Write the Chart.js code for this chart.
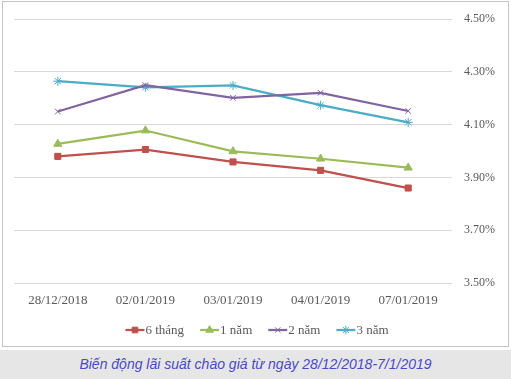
<!DOCTYPE html>
<html>
<head>
<meta charset="utf-8">
<script src="https://cdn.jsdelivr.net/npm/chart.js@4/dist/chart.umd.min.js"></script>
<style>
  html, body { margin: 0; padding: 0; background: #ffffff; }
  body { width: 511px; height: 379px; position: relative; overflow: hidden; }
  #frame { position: absolute; left: 2px; top: 1px; width: 505px; height: 344px; border: 1px solid #c4c4c4; box-sizing: content-box; }
  #caption { position: absolute; left: 0; top: 350px; width: 511px; height: 29px; background: #e6e6e6;
    font-family: "Liberation Sans", Arial, sans-serif; font-style: italic; font-size: 14px; color: #4a4ac6;
    text-align: center; line-height: 29px; }
  #c { position: absolute; left: 0; top: 0; }
</style>
</head>
<body>
<div id="frame"></div>
<canvas id="c" width="511" height="379"></canvas>
<div id="caption">Biến động lãi suất chào giá từ ngày 28/12/2018-7/1/2019</div>
<script>
const categories = ['28/12/2018', '02/01/2019', '03/01/2019', '04/01/2019', '07/01/2019'];
const seriesNames = ['6 tháng', '1 năm', '2 năm', '3 năm'];
const sixMonths = [3.98, 4.006, 3.959, 3.927, 3.86];
const oneYear = [4.027, 4.078, 3.999, 3.971, 3.937];
const twoYears = [4.15, 4.25, 4.202, 4.221, 4.152];
const threeYears = [4.265, 4.242, 4.249, 4.174, 4.109];
const yTicks = [3.5, 3.7, 3.9, 4.1, 4.3, 4.5];

const colors = ['#C0504D', '#9BBB59', '#8064A2', '#4BACC6'];
const styles = ['rect', 'triangle', 'crossRot', 'star'];
const radii = [4.3, 4.7, 4, 4.5];
const values = [sixMonths, oneYear, twoYears, threeYears];

const datasets = seriesNames.map((n, i) => ({
  label: n,
  data: values[i],
  borderColor: colors[i],
  backgroundColor: colors[i],
  borderWidth: 2.25,
  pointStyle: styles[i],
  pointRadius: radii[i],
  pointBorderWidth: 1,
  pointBackgroundColor: colors[i],
  pointBorderColor: colors[i],
  tension: 0,
  fill: false
}));

const serif = '"Liberation Serif", "Times New Roman", serif';

const legendPlugin = {
  id: 'customLegend',
  afterDraw(chart) {
    const ctx = chart.ctx;
    ctx.save();
    ctx.font = '13px ' + serif;
    ctx.textBaseline = 'middle';
    const lineLen = 19, gap = 1, spacing = 16;
    const widths = seriesNames.map(n => ctx.measureText(n).width);
    let total = 0;
    widths.forEach((w, i) => { total += lineLen + gap + w + (i < widths.length - 1 ? spacing : 0); });
    let x = 257 - total / 2;
    const y = 330;
    datasets.forEach((d, i) => {
      ctx.strokeStyle = d.borderColor;
      ctx.lineWidth = 2.25;
      ctx.beginPath();
      ctx.moveTo(x, y);
      ctx.lineTo(x + lineLen, y);
      ctx.stroke();
      ctx.fillStyle = d.backgroundColor;
      ctx.lineWidth = 1;
      Chart.helpers.drawPoint(ctx, { pointStyle: d.pointStyle, radius: d.pointRadius - 0.3, borderWidth: 1 }, x + lineLen / 2, y);
      ctx.fillStyle = '#595959';
      ctx.fillText(seriesNames[i], x + lineLen + gap, y + 1);
      x += lineLen + gap + widths[i] + spacing;
    });
    ctx.restore();
  }
};

new Chart(document.getElementById('c'), {
  type: 'line',
  data: { labels: categories, datasets: datasets },
  options: {
    responsive: false,
    animation: false,
    events: [],
    layout: { padding: { left: 14, right: 2, top: 15, bottom: 66 } },
    plugins: { legend: { display: false }, tooltip: { enabled: false } },
    scales: {
      x: {
        offset: true,
        grid: { display: false, drawTicks: false },
        border: { display: false },
        ticks: { color: '#595959', font: { family: serif, size: 13 }, padding: 10, maxRotation: 0, autoSkip: false },
        afterFit(scale) { scale.height = 30; }
      },
      y: {
        position: 'right',
        min: 3.5,
        max: 4.5,
        afterBuildTicks(scale) { scale.ticks = yTicks.map(v => ({ value: v })); },
        grid: { color: '#d9d9d9', lineWidth: 1, drawTicks: false },
        border: { display: false },
        ticks: {
          color: '#595959', font: { family: serif, size: 12 }, padding: 12,
          callback: v => Number(v).toFixed(2) + '%'
        },
        afterFit(scale) { scale.width = 57; }
      }
    }
  },
  plugins: [legendPlugin]
});
</script>
</body>
</html>
